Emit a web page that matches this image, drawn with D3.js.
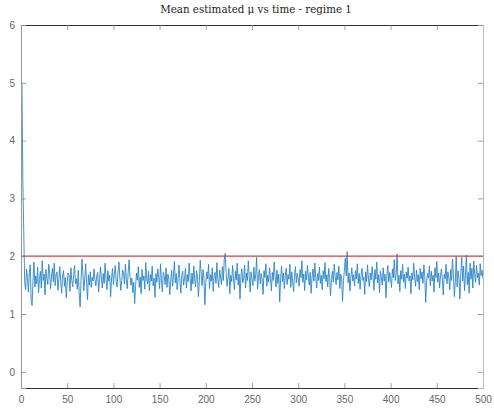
<!DOCTYPE html>
<html>
<head>
<meta charset="utf-8">
<script src="https://cdn.jsdelivr.net/npm/d3@7"></script>
<style>
  html, body { margin: 0; padding: 0; background: #fff; }
  svg { display: block; }
</style>
</head>
<body>
<svg id="chart" width="494" height="410"></svg>
<script>
// Mean estimated mu per time step (regime 1)
const muEstimate = [
  5.00, 3.30, 2.40, 1.55, 1.42, 1.78, 1.63, 1.38, 1.71, 1.85, 1.22, 1.15, 1.58, 1.90, 1.47, 1.66, 1.52, 1.81, 1.37, 1.60,
  1.74, 1.45, 1.92, 1.58, 1.69, 1.33, 1.77, 1.62, 1.51, 1.86, 1.70, 1.44, 1.64, 1.79, 1.56, 1.88, 1.49, 1.68, 1.73, 1.41,
  1.60, 1.82, 1.55, 1.36, 1.67, 1.75, 1.48, 1.63, 1.28, 1.54, 1.71, 1.66, 1.39, 1.80, 1.58, 1.47, 1.69, 1.84, 1.52, 1.61,
  1.43, 1.76, 1.35, 1.12, 1.58, 1.95, 1.70, 1.40, 1.62, 1.87, 1.55, 1.25, 1.68, 1.50, 1.73, 1.46, 1.64, 1.57, 1.78, 1.60,
  1.49, 1.66, 1.72, 1.38, 1.59, 1.81, 1.64, 1.45, 1.70, 1.53, 1.88, 1.62, 1.42, 1.75, 1.57, 1.67, 1.30, 1.61, 1.79, 1.51,
  1.68, 1.84, 1.56, 1.47, 1.73, 1.90, 1.63, 1.41, 1.58, 1.76, 1.69, 1.52, 1.86, 1.60, 1.44, 1.72, 1.94, 1.65, 1.50, 1.62,
  1.37, 1.55, 1.18, 1.48, 1.71, 1.59, 1.82, 1.46, 1.64, 1.35, 1.77, 1.58, 1.66, 1.43, 1.89, 1.61, 1.52, 1.74, 1.40, 1.68,
  1.57, 1.83, 1.49, 1.62, 1.29, 1.70, 1.55, 1.78, 1.63, 1.44, 1.87, 1.59, 1.38, 1.72, 1.66, 1.51, 1.80, 1.46, 1.69, 1.60,
  1.33, 1.58, 1.76, 1.48, 1.65, 1.91, 1.54, 1.70, 1.42, 1.61, 1.85, 1.57, 1.36, 1.67, 1.74, 1.50, 1.62, 1.79, 1.45, 1.68,
  1.56, 1.88, 1.63, 1.40, 1.71, 1.52, 1.83, 1.59, 1.47, 1.75, 1.65, 1.30, 1.58, 1.93, 1.69, 1.49, 1.77, 1.62, 1.16, 1.55,
  1.73, 1.61, 1.86, 1.44, 1.68, 1.57, 1.80, 1.39, 1.66, 1.72, 1.53, 1.89, 1.60, 1.46, 1.76, 1.64, 1.51, 1.82, 1.58, 1.95,
  2.05, 1.70, 1.48, 1.63, 1.79, 1.35, 1.67, 1.56, 1.84, 1.61, 1.42, 1.74, 1.59, 1.88, 1.50, 1.69, 1.26, 1.65, 1.78, 1.54,
  1.62, 1.85, 1.45, 1.71, 1.58, 1.92, 1.66, 1.38, 1.73, 1.60, 1.49, 1.81, 1.57, 1.68, 1.98, 1.43, 1.64, 1.77, 1.52, 1.70,
  1.59, 1.34, 1.75, 1.63, 1.87, 1.48, 1.67, 1.55, 1.80, 1.61, 1.40, 1.72, 1.58, 1.90, 1.64, 1.47, 1.76, 1.53, 1.69, 1.21,
  1.62, 1.83, 1.56, 1.71, 1.44, 1.66, 1.79, 1.51, 1.68, 1.60, 1.86, 1.46, 1.73, 1.57, 1.39, 1.65, 1.82, 1.54, 1.70, 1.61,
  1.48, 1.77, 1.63, 1.92, 1.55, 1.69, 1.41, 1.74, 1.59, 1.84, 1.66, 1.50, 1.72, 1.36, 1.64, 1.78, 1.57, 1.88, 1.62, 1.45,
  1.70, 1.58, 1.81, 1.53, 1.67, 1.42, 1.75, 1.61, 1.89, 1.56, 1.68, 1.47, 1.79, 1.63, 1.32, 1.60, 1.74, 1.55, 1.86, 1.65,
  1.51, 1.72, 1.59, 1.83, 1.44, 1.69, 1.62, 1.22, 1.58, 1.76, 1.97, 1.66, 2.08, 1.54, 1.71, 1.40, 1.64, 1.80, 1.57, 1.68,
  1.49, 1.75, 1.61, 1.87, 1.53, 1.70, 1.43, 1.66, 1.79, 1.58, 1.64, 1.34, 1.73, 1.56, 1.85, 1.62, 1.47, 1.71, 1.59, 1.82,
  1.65, 1.41, 1.77, 1.60, 1.90, 1.54, 1.68, 1.37, 1.74, 1.63, 1.50, 1.80, 1.57, 1.69, 1.28, 1.66, 1.84, 1.55, 1.72, 1.61,
  1.46, 1.78, 1.63, 1.94, 1.58, 1.70, 2.04, 1.52, 1.67, 1.39, 1.75, 1.60, 1.86, 1.55, 1.69, 1.44, 1.73, 1.62, 1.81, 1.57,
  1.66, 1.35, 1.71, 1.59, 1.88, 1.64, 1.48, 1.76, 1.56, 1.68, 1.42, 1.79, 1.61, 1.73, 1.53, 1.85, 1.65, 1.20, 1.58, 1.70,
  1.62, 1.83, 1.49, 1.74, 1.57, 1.67, 1.38, 1.80, 1.63, 1.91, 1.55, 1.71, 1.45, 1.66, 1.78, 1.59, 1.33, 1.69, 1.61, 1.86,
  1.52, 1.73, 1.64, 1.42, 1.77, 1.58, 1.95, 1.68, 1.30, 1.55, 2.00, 1.47, 1.75, 1.62, 1.26, 1.70, 1.98, 1.57, 1.83, 1.40,
  1.66, 2.02, 1.51, 1.72, 1.36, 1.88, 1.60, 1.79, 1.45, 1.92, 1.68, 1.55, 1.84, 1.63, 1.71, 1.50, 1.87, 1.66, 1.76, 1.62
];
// True value of mu for this regime
const trueMu = 2;
const xTicks = [0, 50, 100, 150, 200, 250, 300, 350, 400, 450, 500];
const yTicks = [0, 1, 2, 3, 4, 5, 6];
const xDomain = [0, 500];
const yDomain = [-0.28, 6];

const svg = d3.select("#chart");
const m = { left: 21, right: 11, top: 25, bottom: 22 };
const W = 494, H = 410;

const x = d3.scaleLinear().domain(xDomain).range([m.left, W - m.right]);
const y = d3.scaleLinear().domain(yDomain).range([H - m.bottom, m.top]);

const plot = svg.append("g");

// axes with inward ticks, MATLAB style
const tickLen = 5;
const xAxisB = d3.axisBottom(x).tickValues(xTicks).tickSize(-tickLen).tickPadding(8).tickFormat(d3.format("d"));
const xAxisT = d3.axisTop(x).tickValues(xTicks).tickSize(-tickLen).tickFormat("");
const yAxisL = d3.axisLeft(y).tickValues(yTicks).tickSize(-tickLen).tickPadding(6).tickFormat(d3.format("d"));
const yAxisR = d3.axisRight(y).tickValues(yTicks).tickSize(-tickLen).tickFormat("");

function styleAxis(g, domainColor) {
  g.select(".domain").attr("stroke", domainColor).attr("stroke-width", 1);
  g.selectAll(".tick line").attr("stroke", "#888").attr("stroke-width", 0.8);
  g.selectAll(".tick text")
    .attr("fill", "#666")
    .style("font-family", "'Liberation Sans', Arial, sans-serif")
    .style("font-size", "10px");
}

// data line
const line = d3.line().x((d, i) => x(i + 1)).y(d => y(d));
plot.append("path")
  .datum(muEstimate)
  .attr("fill", "none")
  .attr("stroke", "#2a85c8")
  .attr("stroke-width", 0.9)
  .attr("stroke-linejoin", "round")
  .attr("d", line);

// true value line
plot.append("line")
  .attr("x1", x(xDomain[0])).attr("x2", x(xDomain[1]))
  .attr("y1", y(trueMu)).attr("y2", y(trueMu))
  .attr("stroke", "#e23b3b")
  .attr("stroke-width", 1.2);

svg.append("g").attr("transform", `translate(0,${H - m.bottom})`).call(xAxisB).call(g => styleAxis(g, "#333"));
svg.append("g").attr("transform", `translate(0,${m.top})`).call(xAxisT).call(g => styleAxis(g, "#333"));
svg.append("g").attr("transform", `translate(${m.left},0)`).call(yAxisL).call(g => styleAxis(g, "#999"));
svg.append("g").attr("transform", `translate(${W - m.right},0)`).call(yAxisR).call(g => styleAxis(g, "#bbb"));

// title
svg.append("text")
  .attr("x", (m.left + W - m.right) / 2 + 4)
  .attr("y", 13)
  .attr("text-anchor", "middle")
  .attr("fill", "#222")
  .style("font-family", "'DejaVu Serif', 'Liberation Serif', serif")
  .style("font-size", "10.3px")
  .text("Mean estimated μ vs time - regime 1");
</script>
</body>
</html>
